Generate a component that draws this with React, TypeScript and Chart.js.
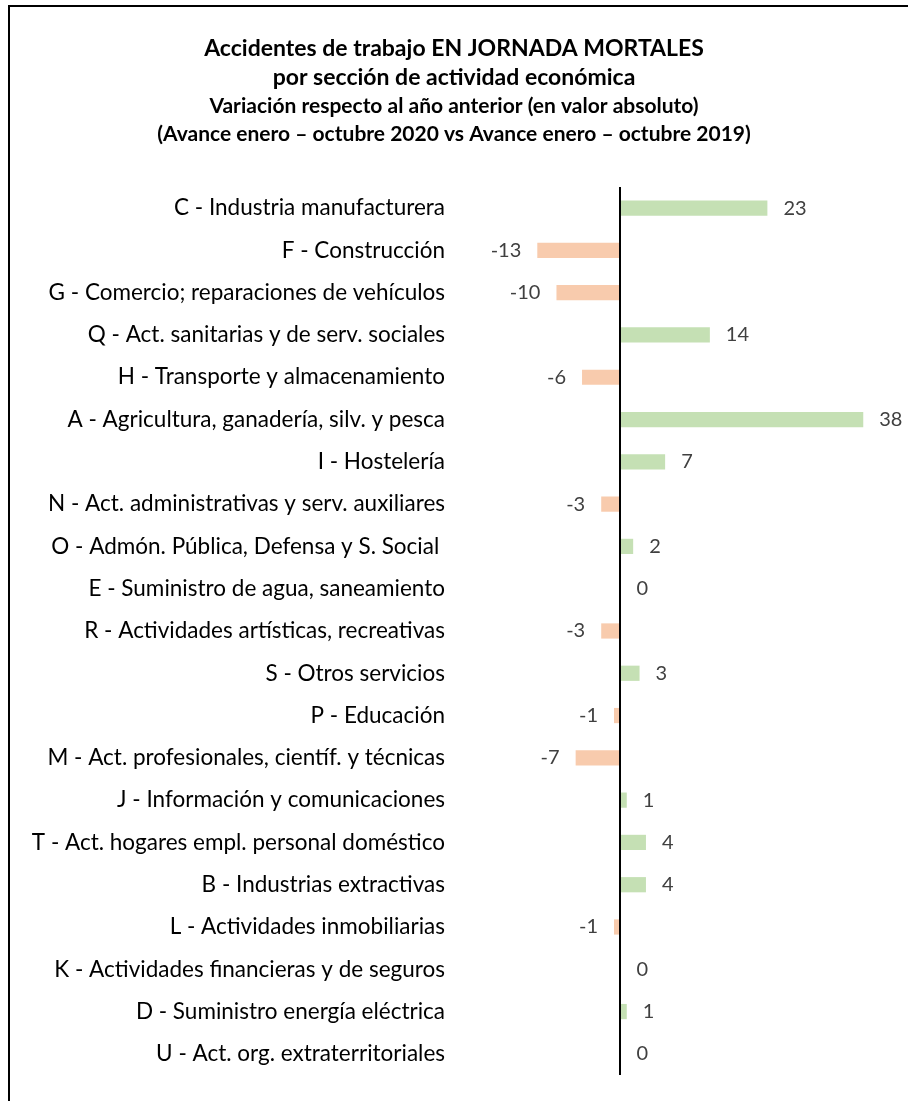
import React, { useEffect, useRef } from "react";
import { Chart, registerables } from "chart.js";

Chart.register(...registerables);

const categories: string[] = [
  "C - Industria manufacturera",
  "F - Construcción",
  "G - Comercio; reparaciones de vehículos",
  "Q - Act. sanitarias y de serv. sociales",
  "H - Transporte y almacenamiento",
  "A - Agricultura, ganadería, silv. y pesca",
  "I - Hostelería",
  "N - Act. administrativas y serv. auxiliares",
  "O - Admón. Pública, Defensa y S. Social ",
  "E - Suministro de agua, saneamiento",
  "R - Actividades artísticas, recreativas",
  "S - Otros servicios",
  "P - Educación",
  "M - Act. profesionales, científ. y técnicas",
  "J - Información y comunicaciones",
  "T - Act. hogares empl. personal doméstico",
  "B - Industrias extractivas",
  "L - Actividades inmobiliarias",
  "K - Actividades financieras y de seguros",
  "D - Suministro energía eléctrica",
  "U - Act. org. extraterritoriales",
];

const values: number[] = [23, -13, -10, 14, -6, 38, 7, -3, 2, 0, -3, 3, -1, -7, 1, 4, 4, -1, 0, 1, 0];

const titleLines: string[] = [
  "Accidentes de trabajo EN JORNADA MORTALES",
  "por sección de actividad económica",
];
const subtitleLines: string[] = [
  "Variación respecto al año anterior (en valor absoluto)",
  "(Avance enero – octubre 2020 vs Avance enero – octubre 2019)",
];

const FONT = "Lato, 'Noto Sans', sans-serif";
const POS_COLOR = "#C5E0B4";
const NEG_COLOR = "#F8CBAD";

export default function App() {
  const ref = useRef<HTMLCanvasElement | null>(null);

  useEffect(() => {
    if (!ref.current) return;

    const framePlugin = {
      id: "frame",
      beforeDraw(chart: any) {
        const ctx = chart.ctx;
        ctx.save();
        ctx.fillStyle = "#ffffff";
        ctx.fillRect(0, 0, chart.width, chart.height);
        ctx.strokeStyle = "#000000";
        ctx.lineWidth = 2;
        ctx.beginPath();
        ctx.moveTo(9, chart.height + 5);
        ctx.lineTo(9, 6);
        ctx.lineTo(chart.width + 5, 6);
        ctx.stroke();
        ctx.restore();
      },
    };

    const zeroLinePlugin = {
      id: "zeroLine",
      afterDatasetsDraw(chart: any) {
        const ctx = chart.ctx;
        const x = Math.round(chart.scales.x.getPixelForValue(0));
        const { top, bottom } = chart.chartArea;
        ctx.save();
        ctx.strokeStyle = "#000000";
        ctx.lineWidth = 2;
        ctx.beginPath();
        ctx.moveTo(x, top);
        ctx.lineTo(x, bottom);
        ctx.stroke();

        const meta = chart.getDatasetMeta(0);
        const zero = chart.scales.x.getPixelForValue(0);
        ctx.font = `20px ${FONT}`;
        ctx.fillStyle = "#404040";
        ctx.textBaseline = "middle";
        meta.data.forEach((bar: any, i: number) => {
          const v = values[i];
          const y = bar.y;
          if (v < 0) {
            ctx.textAlign = "right";
            ctx.fillText(String(v), bar.x - 16, y);
          } else {
            ctx.textAlign = "left";
            ctx.fillText(String(v), Math.max(bar.x, zero) + 16, y);
          }
        });
        ctx.restore();
      },
    };

    const chart = new Chart(ref.current, {
      type: "bar",
      data: {
        labels: categories,
        datasets: [
          {
            data: values,
            backgroundColor: values.map((v) => (v < 0 ? NEG_COLOR : POS_COLOR)),
            barPercentage: 0.36,
            categoryPercentage: 1,
            borderWidth: 0,
          },
        ],
      },
      options: {
        indexAxis: "y",
        animation: false,
        responsive: false,
        maintainAspectRatio: false,
        layout: { padding: { left: 0, right: 0, top: 0, bottom: 26 } },
        plugins: {
          legend: { display: false },
          tooltip: { enabled: false },
          title: {
            display: true,
            text: titleLines,
            color: "#000000",
            font: { family: FONT, size: 23, weight: "bold", lineHeight: 1.26 },
            padding: { top: 34, bottom: 0 },
          },
          subtitle: {
            display: true,
            text: subtitleLines,
            color: "#000000",
            font: { family: FONT, size: 21, weight: "bold", lineHeight: 1.333 },
            padding: { top: 0, bottom: 39 },
          },
        },
        scales: {
          x: {
            display: false,
            min: -20.4,
            max: 45,
          },
          y: {
            grid: { display: false, drawTicks: false },
            border: { display: false },
            ticks: {
              color: "#000000",
              font: { family: FONT, size: 22.5 },
              padding: 45,
              autoSkip: false,
            },
            afterFit(scale: any) {
              scale.width = 490;
              scale.paddingTop = 0;
              scale.paddingBottom = 0;
            },
          },
        },
      },
      plugins: [framePlugin, zeroLinePlugin],
    });

    return () => chart.destroy();
  }, []);

  return (
    <div style={{ position: "fixed", left: 0, top: 0, width: 908, height: 1101 }}>
      <canvas ref={ref} width={908} height={1101} style={{ width: 908, height: 1101, display: "block" }} />
    </div>
  );
}
